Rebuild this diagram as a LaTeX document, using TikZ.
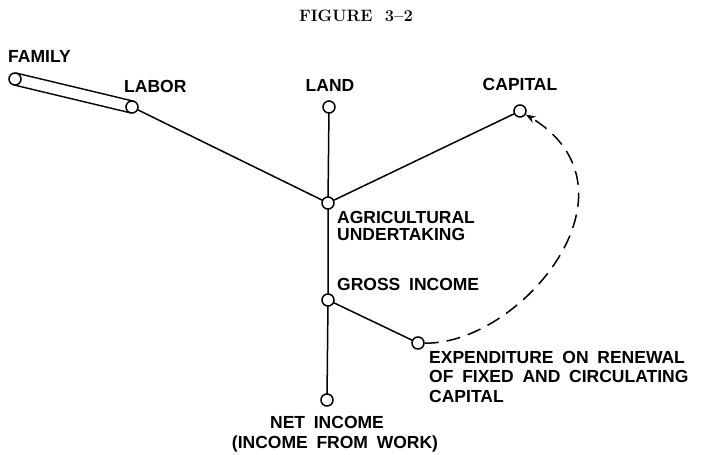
\documentclass[tikz,border=0pt]{standalone}
\usepackage{fontspec}
\setsansfont{Liberation Sans}
\usepackage{tikz}
\usetikzlibrary{arrows.meta,backgrounds}

\newcommand\lblfont{\sffamily\bfseries\fontsize{17.5}{19.5}\selectfont\spaceskip 0.5em\relax}
\newcommand\agrifont{\sffamily\bfseries\fontsize{17.5}{17}\selectfont\spaceskip 0.5em\relax}

\tikzset{
  dot/.style={circle, draw, fill=white, line width=1.5pt, minimum size=12pt, inner sep=0pt},
  lbl/.style={font=\lblfont, inner sep=0pt, anchor=north west, align=left},
  link/.style={line width=1.5pt},
}

\begin{document}
\begin{tikzpicture}[x=1pt,y=-1pt]
\useasboundingbox (0,0) rectangle (713,455);
%
\node[font=\rmfamily\bfseries\fontsize{16.5}{16.5}\selectfont\addfontfeature{LetterSpace=3}] (title) at (356,16) {FIGURE\ \ 3--2};
%
\node[dot] (family) at (15,79) {};
\node[dot] (labor) at (132,107) {};
\node[dot] (land) at (329,107) {};
\node[dot] (capital) at (520,111) {};
\node[dot] (agri) at (328,203) {};
\node[dot] (gross) at (328,300) {};
\node[dot] (expend) at (418,343) {};
\node[dot] (net) at (327,400) {};
%
\node[lbl] (familytxt) at (8,50) {FAMILY};
\node[lbl] (labortxt) at (124,80) {LABOR};
\node[lbl, anchor=north] (landtxt) at (330,79) {LAND};
\node[lbl, anchor=north] (capitaltxt) at (520,78) {CAPITAL};
\node[lbl, font=\agrifont] (agritxt) at (337,211) {AGRICULTURAL\\UNDERTAKING};
\node[lbl] (grosstxt) at (337,278) {GROSS INCOME};
\node[lbl] (expendtxt) at (429,351) {EXPENDITURE ON RENEWAL\\OF FIXED AND CIRCULATING\\CAPITAL};
\node[lbl, anchor=north] (nettxt) at (327,416) {NET INCOME};
\node[lbl, anchor=north] (worktxt) at (335,436) {(INCOME FROM WORK)};
%
\begin{scope}[on background layer]
\draw[link, double distance=10.5pt] (family.center) -- (labor.center);
\draw[link] (labor.center) -- (agri.center);
\draw[link] (land.center) -- (agri.center);
\draw[link] (capital.center) -- (agri.center);
\draw[link] (agri.center) -- (gross.center) -- (net.center);
\draw[link] (gross.center) -- (expend.center);
\end{scope}
%
\draw[link, dash pattern=on 14pt off 8pt, -{Stealth[length=10pt,width=7pt]}]
  (expend) .. controls (520,345) and (650,190) .. (capital);
\end{tikzpicture}
\end{document}
